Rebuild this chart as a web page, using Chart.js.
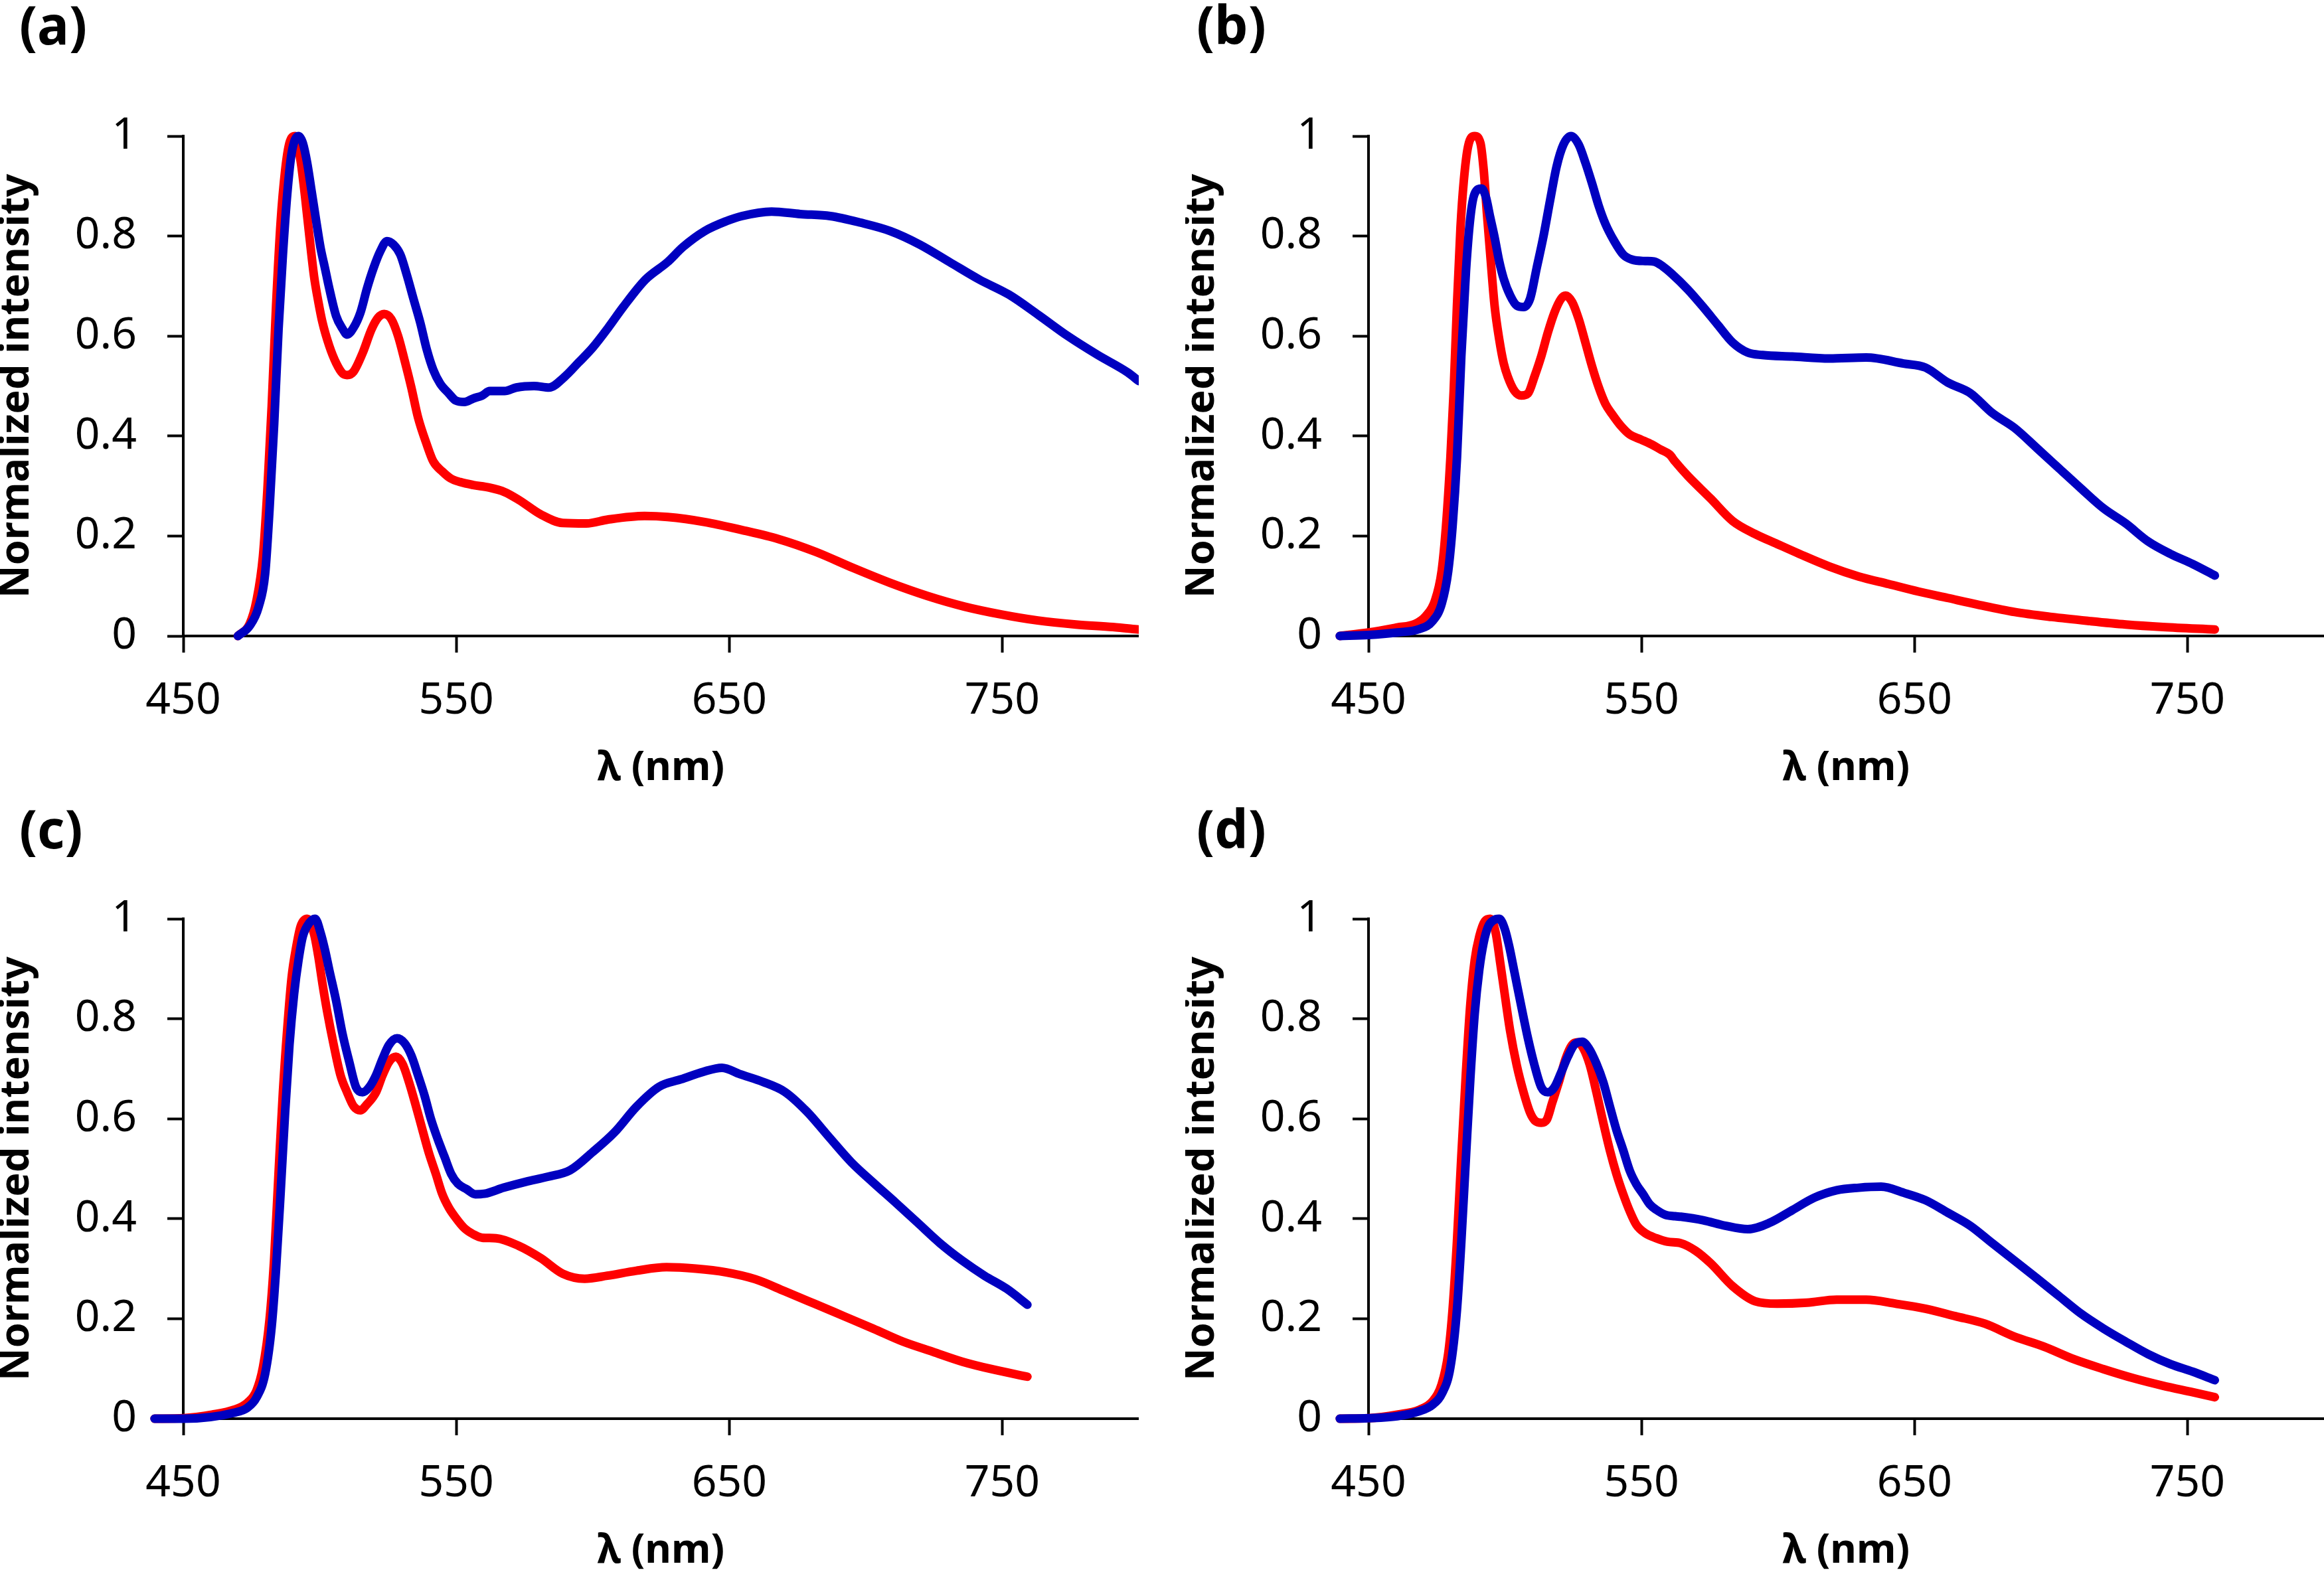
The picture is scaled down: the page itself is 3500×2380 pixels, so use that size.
<!DOCTYPE html>
<html lang="en">
<head>
<meta charset="UTF-8">
<title>Normalized emission spectra</title>
<script src="https://cdn.jsdelivr.net/npm/chart.js"></script>
<style>
  body {
    margin: 0;
    width: 3500px;
    height: 2380px;
    background: #fff;
    position: relative;
    overflow: hidden;
  }
  .panel {
    position: absolute;
    width: 1715px;
    height: 1190px;
  }
  .tag {
    position: absolute;
    font: bold 80px/1 'Noto Sans', sans-serif;
    color: #000;
  }
</style>
</head>
<body>

<div class="panel" style="left:0;top:0"><canvas id="chartA" width="1715" height="1190"></canvas></div>
<div class="panel" style="left:1785px;top:0"><canvas id="chartB" width="1715" height="1190"></canvas></div>
<div class="panel" style="left:0;top:1179px"><canvas id="chartC" width="1715" height="1190"></canvas></div>
<div class="panel" style="left:1785px;top:1179px"><canvas id="chartD" width="1715" height="1190"></canvas></div>

<div class="tag" style="left:29px;top:-4px">(a)</div>
<div class="tag" style="left:1802px;top:-4px">(b)</div>
<div class="tag" style="left:29px;top:1207px">(c)</div>
<div class="tag" style="left:1802px;top:1207px">(d)</div>

<script>
    // axis ticks
    const xTicks = [450, 550, 650, 750];
    const yTicks = [0, 0.2, 0.4, 0.6, 0.8, 1];

    // panel (a)
    const aRedX = [470, 474.3, 476.8, 479.2, 480.8, 482.4, 484, 485.7, 487.3, 488.9, 491, 493, 494.6, 496.2, 497.9, 499.5, 501, 503.5, 506, 508.4, 510, 512.4, 515.7, 519, 521.4, 523.6, 526.2, 528.7, 531, 533.5, 536, 539.2, 541.6, 544.9, 548, 551.4, 556.2, 562, 567.7, 573, 581, 589, 597.6, 605.7, 619, 627.4, 641, 654.6, 668, 681.8, 695.4, 709, 722.6, 736, 749.7, 763, 777, 790.5, 800];
    const aRedY = [0, 0.024, 0.07, 0.16, 0.29, 0.46, 0.66, 0.83, 0.93, 0.986, 1.0, 0.95, 0.88, 0.80, 0.72, 0.668, 0.627, 0.58, 0.546, 0.525, 0.522, 0.529, 0.566, 0.614, 0.637, 0.644, 0.634, 0.60, 0.553, 0.498, 0.437, 0.383, 0.349, 0.329, 0.315, 0.308, 0.302, 0.297, 0.288, 0.272, 0.243, 0.226, 0.225, 0.233, 0.24, 0.238, 0.228, 0.212, 0.194, 0.168, 0.136, 0.106, 0.08, 0.059, 0.043, 0.031, 0.023, 0.018, 0.013];
    const aBlueX = [470, 474.3, 477.6, 480, 481.6, 483.3, 484.9, 486.5, 488.1, 489.7, 492.2, 493.8, 495.4, 497, 498.7, 500.3, 501.9, 503.5, 506, 508.4, 510, 512.4, 514.9, 517.3, 519.7, 522.2, 524.6, 527, 529.5, 531.9, 534.3, 536.8, 539.2, 541.6, 544.1, 547.3, 549.8, 553, 556.2, 559.5, 562.3, 567.7, 572, 578.5, 584, 589.4, 594.8, 600, 605.7, 611, 619.3, 627.4, 633, 641, 649, 654.6, 665.5, 676, 687, 698, 709, 719.8, 730.7, 741.6, 752.4, 763.3, 774, 785, 796, 800];
    const aBlueY = [0, 0.02, 0.058, 0.125, 0.254, 0.424, 0.614, 0.763, 0.885, 0.966, 1.0, 0.986, 0.946, 0.89, 0.83, 0.776, 0.736, 0.695, 0.64, 0.614, 0.603, 0.617, 0.647, 0.695, 0.736, 0.77, 0.79, 0.783, 0.763, 0.722, 0.675, 0.627, 0.573, 0.532, 0.505, 0.485, 0.471, 0.468, 0.475, 0.481, 0.49, 0.49, 0.497, 0.5, 0.497, 0.517, 0.547, 0.577, 0.617, 0.657, 0.713, 0.748, 0.778, 0.81, 0.83, 0.84, 0.849, 0.844, 0.84, 0.827, 0.81, 0.783, 0.748, 0.713, 0.683, 0.642, 0.6, 0.562, 0.527, 0.51];

    // panel (b)
    const bRedX = [439.5, 450, 460.5, 467, 471, 474.3, 476.8, 478.4, 480, 481.2, 482.4, 483.7, 484.9, 486.5, 488.9, 491, 492.2, 493.4, 494.6, 496.2, 497.9, 499.5, 501, 503.5, 506, 508.4, 510.8, 513.3, 515.7, 518.1, 520.6, 522.2, 524.6, 527, 529.5, 531.9, 534.3, 536.8, 539.2, 542.5, 545.7, 549.8, 553.8, 557, 560.3, 562.3, 567, 575.3, 583.4, 591.6, 599.7, 607.9, 618.8, 629.6, 640.5, 651.4, 662.2, 673, 686.7, 700.3, 713.9, 727.4, 741, 760];
    const bRedY = [0, 0.007, 0.017, 0.024, 0.04, 0.07, 0.13, 0.22, 0.356, 0.49, 0.66, 0.817, 0.91, 0.98, 1.0, 0.986, 0.932, 0.844, 0.763, 0.66, 0.593, 0.546, 0.519, 0.49, 0.481, 0.485, 0.519, 0.56, 0.607, 0.647, 0.675, 0.681, 0.668, 0.634, 0.586, 0.539, 0.498, 0.464, 0.444, 0.42, 0.403, 0.393, 0.383, 0.373, 0.363, 0.349, 0.32, 0.275, 0.23, 0.204, 0.184, 0.164, 0.139, 0.119, 0.104, 0.089, 0.076, 0.063, 0.048, 0.038, 0.030, 0.023, 0.018, 0.013];
    const bBlueX = [439.5, 450, 460.5, 468.7, 473.5, 476.8, 479.2, 480.8, 482.4, 484, 485.7, 487.3, 488.9, 491.4, 493, 494.6, 496.2, 497.9, 499.5, 501.9, 504.3, 506.8, 509.2, 511.6, 514, 516.5, 518.9, 521.4, 524.2, 527, 529.5, 531.9, 534.3, 536.8, 540, 543.3, 546.5, 551.4, 554.6, 557.9, 561, 567, 572.6, 578, 583.4, 588.9, 594.3, 605.2, 618.8, 632.3, 646, 654, 662.2, 670.4, 678.5, 686.7, 694.8, 703, 711, 719.3, 727.4, 735.6, 743.8, 751.9, 760];
    const bBlueY = [0, 0.002, 0.007, 0.014, 0.03, 0.064, 0.13, 0.22, 0.356, 0.56, 0.73, 0.837, 0.885, 0.895, 0.878, 0.837, 0.797, 0.749, 0.715, 0.681, 0.661, 0.658, 0.675, 0.736, 0.797, 0.871, 0.939, 0.983, 1.0, 0.983, 0.946, 0.905, 0.861, 0.824, 0.79, 0.763, 0.753, 0.75, 0.749, 0.739, 0.725, 0.693, 0.658, 0.622, 0.587, 0.567, 0.562, 0.559, 0.555, 0.557, 0.545, 0.537, 0.507, 0.486, 0.446, 0.416, 0.376, 0.335, 0.295, 0.255, 0.225, 0.189, 0.164, 0.144, 0.121];

    // panel (c)
    const cRedX = [439.5, 450, 460.5, 468.7, 473.5, 476.8, 479.2, 481.6, 483.3, 484.9, 486.5, 488.1, 489.7, 491.4, 493, 495.4, 497.9, 499.5, 501, 502.7, 505.1, 507.6, 510, 512.4, 514.9, 517.3, 520.6, 523, 525.4, 527.9, 530.3, 532.7, 535.2, 537.6, 540, 542.5, 544.9, 547.3, 549.8, 553, 556.2, 559.5, 564.6, 572.8, 581, 589, 597, 605.3, 616, 627, 637.8, 648.6, 659.5, 670.3, 681.2, 692, 702.8, 713.7, 724.5, 735.4, 746.2, 759.2];
    const cRedY = [0, 0.001, 0.008, 0.018, 0.032, 0.056, 0.103, 0.198, 0.32, 0.49, 0.653, 0.78, 0.883, 0.944, 0.985, 1.0, 0.97, 0.924, 0.87, 0.815, 0.748, 0.687, 0.653, 0.625, 0.617, 0.629, 0.653, 0.687, 0.714, 0.724, 0.71, 0.673, 0.626, 0.578, 0.531, 0.49, 0.449, 0.422, 0.402, 0.381, 0.369, 0.362, 0.361, 0.346, 0.321, 0.29, 0.28, 0.286, 0.296, 0.303, 0.3, 0.293, 0.279, 0.255, 0.23, 0.205, 0.18, 0.154, 0.134, 0.114, 0.099, 0.084];
    const cBlueX = [439.5, 450, 468.7, 473.5, 476.8, 480, 482.4, 484, 485.7, 487.3, 488.9, 490.6, 492.2, 493.8, 496.2, 498.3, 500.3, 501.9, 503.5, 506, 508.4, 510.8, 513.3, 515.7, 518.1, 520.6, 523, 525.4, 528.3, 531.1, 533.5, 536, 538.4, 540.8, 543.3, 545.7, 548.1, 550.6, 553.8, 557, 560.3, 567.3, 575.5, 583.6, 591.7, 599.9, 608, 616, 624.3, 632.4, 640.5, 647.3, 654, 662.2, 670.3, 678.5, 686.6, 694.7, 702.8, 711, 719, 727.2, 735.4, 743.5, 751.6, 759.2];
    const cBlueY = [0, 0, 0.012, 0.022, 0.042, 0.09, 0.185, 0.3, 0.456, 0.612, 0.748, 0.85, 0.917, 0.965, 0.992, 1.0, 0.972, 0.938, 0.897, 0.836, 0.768, 0.714, 0.663, 0.653, 0.663, 0.687, 0.72, 0.748, 0.761, 0.751, 0.727, 0.687, 0.646, 0.598, 0.558, 0.524, 0.49, 0.47, 0.459, 0.449, 0.45, 0.462, 0.474, 0.484, 0.497, 0.533, 0.573, 0.624, 0.664, 0.679, 0.694, 0.702, 0.689, 0.674, 0.654, 0.614, 0.563, 0.513, 0.472, 0.432, 0.392, 0.351, 0.316, 0.286, 0.26, 0.228];

    // panel (d)
    const dRedX = [439.5, 450, 460.5, 468.7, 473.5, 476.8, 479.2, 480.8, 482.4, 484, 485.7, 487.3, 488.9, 490.6, 492.6, 494.6, 496.6, 498.3, 499.9, 501.9, 504.3, 506.8, 509.2, 511.2, 513.3, 515.3, 517.3, 519.7, 522.2, 524.6, 526.6, 528.7, 531.1, 533.5, 536, 538.4, 540.8, 543.3, 545.7, 548.1, 551.4, 555.4, 559.5, 564.4, 569.8, 575.3, 583.4, 591.6, 599.7, 610.6, 621.5, 632.3, 643.2, 654, 665, 675.8, 686.7, 697.5, 708.4, 719.3, 730.2, 741, 751.9, 760];
    const dRedY = [0, 0.001, 0.008, 0.018, 0.035, 0.069, 0.13, 0.218, 0.354, 0.524, 0.693, 0.829, 0.917, 0.965, 0.995, 1.0, 0.972, 0.91, 0.849, 0.775, 0.707, 0.653, 0.612, 0.595, 0.592, 0.598, 0.632, 0.673, 0.72, 0.748, 0.753, 0.741, 0.707, 0.653, 0.592, 0.537, 0.49, 0.449, 0.415, 0.388, 0.371, 0.361, 0.354, 0.351, 0.336, 0.311, 0.265, 0.235, 0.23, 0.232, 0.238, 0.238, 0.23, 0.22, 0.205, 0.19, 0.164, 0.144, 0.119, 0.099, 0.081, 0.066, 0.053, 0.043];
    const dBlueX = [439.5, 450, 460.5, 468.7, 473.5, 476.8, 480, 482.4, 484, 485.7, 487.3, 488.9, 490.6, 492.2, 493.8, 495.8, 497.9, 499.9, 501.5, 503.5, 506, 508.4, 510.8, 513.3, 515.7, 518.1, 520.6, 523, 525.4, 528.3, 530.7, 533.5, 536, 538.4, 540.8, 543.3, 545.7, 548.1, 550.6, 553, 555.4, 558.7, 562.3, 564.4, 572.6, 580.7, 588.9, 597, 605.2, 613.3, 621.5, 629.6, 637.8, 646, 654, 662.2, 670.4, 678.5, 686.7, 694.8, 703, 711, 719.3, 727.4, 735.6, 743.8, 751.9, 760];
    const dBlueY = [0, 0.001, 0.005, 0.015, 0.028, 0.049, 0.103, 0.218, 0.354, 0.524, 0.68, 0.81, 0.899, 0.953, 0.984, 0.997, 1.0, 0.98, 0.946, 0.892, 0.824, 0.761, 0.707, 0.663, 0.653, 0.663, 0.693, 0.724, 0.748, 0.754, 0.741, 0.71, 0.673, 0.625, 0.578, 0.537, 0.496, 0.469, 0.449, 0.429, 0.418, 0.408, 0.405, 0.404, 0.397, 0.386, 0.379, 0.392, 0.417, 0.442, 0.457, 0.462, 0.464, 0.452, 0.437, 0.412, 0.386, 0.351, 0.316, 0.281, 0.245, 0.21, 0.18, 0.154, 0.129, 0.109, 0.094, 0.077];

    const RED = '#FF0000';
    const BLUE = '#0000C0';

    function points(xs, ys) {
        return xs.map((x, i) => ({ x: x, y: ys[i] }));
    }

    function line(pts, color) {
        return {
            data: pts,
            borderColor: color,
            borderWidth: 13,
            pointRadius: 0,
            cubicInterpolationMode: 'monotone',
            borderCapStyle: 'round',
            borderJoinStyle: 'round',
            clip: false
        };
    }

    function makeChart(id, redX, redY, blueX, blueY) {
        const ctx = document.getElementById(id).getContext('2d');
        return new Chart(ctx, {
            type: 'line',
            data: {
                // first dataset is painted last, so blue sits on top of red
                datasets: [
                    line(points(blueX, blueY), BLUE),
                    line(points(redX, redY), RED)
                ]
            },
            options: {
                responsive: false,
                animation: false,
                devicePixelRatio: 1,
                layout: { padding: { top: 205, left: 0, right: 0, bottom: 0 } },
                plugins: { legend: { display: false }, tooltip: { enabled: false } },
                scales: {
                    x: {
                        type: 'linear',
                        min: 450,
                        max: 800,
                        afterFit: s => { s.height = 232; },
                        afterBuildTicks: s => { s.ticks = xTicks.map(v => ({ value: v })); },
                        grid: { drawOnChartArea: false, drawTicks: true, tickLength: 25, tickWidth: 4, tickColor: '#000' },
                        border: { display: true, color: '#000', width: 4 },
                        ticks: {
                            color: '#000',
                            padding: 34,
                            maxRotation: 0,
                            font: { family: 'Noto Sans', size: 66 },
                            callback: v => String(v)
                        },
                        title: {
                            display: true,
                            text: 'λ (nm)',
                            color: '#000',
                            font: { family: 'Noto Sans', size: 61, weight: 'bold', lineHeight: 1 },
                            padding: { top: 0, bottom: 2 }
                        }
                    },
                    y: {
                        min: 0,
                        max: 1,
                        afterFit: s => { s.width = 276; },
                        afterBuildTicks: s => { s.ticks = yTicks.map(v => ({ value: v })); },
                        grid: { drawOnChartArea: false, drawTicks: true, tickLength: 24, tickWidth: 4, tickColor: '#000' },
                        border: { display: true, color: '#000', width: 4 },
                        ticks: {
                            color: '#000',
                            padding: 46,
                            font: { family: 'Noto Sans', size: 66 },
                            callback: v => String(v)
                        },
                        title: {
                            display: true,
                            text: 'Normalized intensity',
                            color: '#000',
                            font: { family: 'Noto Sans', size: 61, weight: 'bold', lineHeight: 0.85 },
                            padding: 0
                        }
                    }
                }
            }
        });
    }

    makeChart('chartA', aRedX, aRedY, aBlueX, aBlueY);
    makeChart('chartB', bRedX, bRedY, bBlueX, bBlueY);
    makeChart('chartC', cRedX, cRedY, cBlueX, cBlueY);
    makeChart('chartD', dRedX, dRedY, dBlueX, dBlueY);
</script>

</body>
</html>
